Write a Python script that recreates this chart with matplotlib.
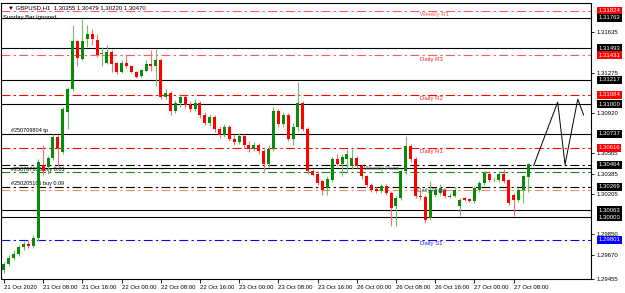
import matplotlib
matplotlib.use('Agg')
import matplotlib.pyplot as plt
import matplotlib.transforms as mtransforms
import numpy as np

plt.rcParams['font.family'] = ['Liberation Sans', 'DejaVu Sans']

# GBPUSD H1 candles, 21 Oct 2020 00:00 -> 27 Oct 2020 11:00 (Sunday bar ignored)
opens = [1.29537, 1.29590, 1.29642, 1.29677, 1.29739, 1.29765, 1.29748, 1.29818, 1.30466, 1.30448,
         1.30527, 1.30711, 1.30580, 1.30930, 1.31132, 1.31561, 1.31403, 1.31578, 1.31622, 1.31570,
         1.31447, 1.31368, 1.31464, 1.31368, 1.31281, 1.31368, 1.31333, 1.31281, 1.31245, 1.31289,
         1.31359, 1.31333, 1.31394, 1.31062, 1.31097, 1.30939, 1.31009, 1.31062, 1.30991, 1.30956,
         1.31009, 1.30904, 1.30834, 1.30886, 1.30781, 1.30729, 1.30799, 1.30694, 1.30667, 1.30720,
         1.30641, 1.30606, 1.30641, 1.30588, 1.30475, 1.30606, 1.30939, 1.30825, 1.30904, 1.30694,
         1.30799, 1.31009, 1.30781, 1.30413, 1.30387, 1.30317, 1.30256, 1.30326, 1.30518, 1.30475,
         1.30518, 1.30457, 1.30527, 1.30457, 1.30361, 1.30282, 1.30247, 1.30229, 1.30273, 1.30212,
         1.30098, 1.30168, 1.30405, 1.30632, 1.30518, 1.30186, 1.30177, 1.29993, 1.30194, 1.30212,
         1.30238, 1.30177, 1.30186, 1.30098, 1.30168, 1.30159, 1.30142, 1.30238, 1.30299, 1.30387,
         1.30326, 1.30326, 1.30387, 1.30326, 1.30194, 1.30150, 1.30238, 1.30355]
highs = [1.29607, 1.29669, 1.29712, 1.29756, 1.29791, 1.29800, 1.29844, 1.30518, 1.30641, 1.30545,
         1.30737, 1.30729, 1.30974, 1.31149, 1.31701, 1.31570, 1.31754, 1.31701, 1.31666, 1.31622,
         1.31508, 1.31526, 1.31482, 1.31377, 1.31394, 1.31438, 1.31342, 1.31289, 1.31307, 1.31394,
         1.31482, 1.31491, 1.31412, 1.31132, 1.31114, 1.31035, 1.31088, 1.31079, 1.31026, 1.31044,
         1.31026, 1.30930, 1.30913, 1.30904, 1.30807, 1.30825, 1.30816, 1.30729, 1.30746, 1.30737,
         1.30676, 1.30667, 1.30659, 1.30606, 1.30641, 1.30974, 1.30956, 1.30930, 1.30921, 1.30834,
         1.31193, 1.31026, 1.30799, 1.30431, 1.30405, 1.30343, 1.30361, 1.30536, 1.30562, 1.30562,
         1.30606, 1.30606, 1.30545, 1.30475, 1.30378, 1.30299, 1.30264, 1.30291, 1.30291, 1.30229,
         1.30186, 1.30431, 1.30720, 1.30650, 1.30536, 1.30238, 1.30194, 1.30317, 1.30256, 1.30291,
         1.30256, 1.30212, 1.30264, 1.30168, 1.30177, 1.30168, 1.30273, 1.30317, 1.30413, 1.30405,
         1.30352, 1.30405, 1.30431, 1.30343, 1.30212, 1.30256, 1.30378, 1.30479]
lows = [1.29511, 1.29572, 1.29625, 1.29660, 1.29712, 1.29730, 1.29730, 1.29791, 1.30378, 1.30387,
        1.30510, 1.30457, 1.30562, 1.30781, 1.31114, 1.31333, 1.31394, 1.31508, 1.31526, 1.31421,
        1.31333, 1.31359, 1.31281, 1.31263, 1.31272, 1.31324, 1.31272, 1.31228, 1.31237, 1.31281,
        1.31289, 1.31158, 1.31044, 1.31044, 1.30904, 1.30921, 1.30974, 1.30965, 1.30930, 1.30939,
        1.30878, 1.30816, 1.30807, 1.30755, 1.30702, 1.30711, 1.30676, 1.30641, 1.30650, 1.30615,
        1.30580, 1.30588, 1.30562, 1.30413, 1.30448, 1.30588, 1.30799, 1.30799, 1.30676, 1.30641,
        1.30764, 1.30764, 1.30387, 1.30361, 1.30282, 1.30194, 1.30194, 1.30308, 1.30457, 1.30361,
        1.30413, 1.30431, 1.30440, 1.30343, 1.30264, 1.30221, 1.30212, 1.30212, 1.30194, 1.29923,
        1.29923, 1.30150, 1.30387, 1.30492, 1.30168, 1.30150, 1.29949, 1.29975, 1.30177, 1.30194,
        1.30168, 1.30168, 1.30177, 1.30010, 1.30142, 1.30133, 1.30124, 1.30221, 1.30282, 1.30308,
        1.30308, 1.30308, 1.30299, 1.30107, 1.30010, 1.30133, 1.30124, 1.30220]
closes = [1.29590, 1.29642, 1.29677, 1.29739, 1.29765, 1.29748, 1.29818, 1.30492, 1.30405, 1.30527,
          1.30711, 1.30615, 1.30956, 1.31132, 1.31561, 1.31412, 1.31561, 1.31622, 1.31578, 1.31438,
          1.31456, 1.31464, 1.31359, 1.31281, 1.31368, 1.31333, 1.31281, 1.31237, 1.31298, 1.31359,
          1.31333, 1.31394, 1.31062, 1.31097, 1.30939, 1.31009, 1.31062, 1.30991, 1.30956, 1.31009,
          1.30904, 1.30834, 1.30886, 1.30781, 1.30729, 1.30799, 1.30694, 1.30667, 1.30720, 1.30641,
          1.30606, 1.30641, 1.30588, 1.30475, 1.30606, 1.30939, 1.30825, 1.30904, 1.30694, 1.30799,
          1.31009, 1.30781, 1.30413, 1.30378, 1.30299, 1.30238, 1.30343, 1.30518, 1.30475, 1.30536,
          1.30562, 1.30527, 1.30457, 1.30361, 1.30282, 1.30238, 1.30229, 1.30273, 1.30212, 1.30080,
          1.30168, 1.30405, 1.30632, 1.30518, 1.30186, 1.30177, 1.29975, 1.30238, 1.30238, 1.30256,
          1.30186, 1.30186, 1.30238, 1.30150, 1.30150, 1.30142, 1.30256, 1.30299, 1.30396, 1.30326,
          1.30334, 1.30387, 1.30317, 1.30124, 1.30150, 1.30238, 1.30361, 1.30470]

time_labels = ["21 Oct 2020", "21 Oct 08:00", "21 Oct 16:00", "22 Oct 00:00", "22 Oct 08:00",
               "22 Oct 16:00", "23 Oct 00:00", "23 Oct 08:00", "23 Oct 16:00", "26 Oct 00:00",
               "26 Oct 08:00", "26 Oct 16:00", "27 Oct 00:00", "27 Oct 08:00"]
price_ticks = [1.31635, 1.31275, 1.30920, 1.30565, 1.30385, 1.30205, 1.29850, 1.29670, 1.29455]

# horizontal levels: price, line colour, style, label box colour
level_prices = [1.31824, 1.31763, 1.31493, 1.31431, 1.31217, 1.31084, 1.31000, 1.30737,
                1.30616, 1.30464, 1.30269, 1.30063, 1.30000, 1.29801]
level_colors = ['#ff5a5a', 'black', 'black', '#ff5a5a', 'black', '#ff0000', 'black', 'black',
                '#ff0000', 'black', 'black', 'black', 'black', '#0000ff']
level_styles = ['dashdot', 'solid', 'solid', 'dashdot', 'solid', 'dashdot', 'solid', 'solid',
                'dashdot', 'dashdot', 'dashdot', 'solid', 'solid', 'dashdot']
label_boxes = ['#ff0000', 'black', 'black', '#ff0000', 'black', '#ff0000', 'black', 'black',
               '#ff0000', 'black', 'black', 'black', 'black', '#0000ff']

# extra order lines
order_prices = [1.30440, 1.30400, 1.30245]
order_colors = ['black', '#109010', '#f08a60']
order_styles = ['solid', 'dashdot', 'dashdot']

pivot_names = ["Weekly R1", "Daily R3", "Daily R2", "Daily R1", "Weekly Pivot", "Daily Pivot", "Daily S1"]
pivot_prices = [1.31824, 1.31431, 1.31084, 1.30616, 1.30464, 1.30269, 1.29801]
pivot_x = [85, 85, 85, 85, 73.5, 84.3, 85]
pivot_colors = ['#ff5a5a', '#ff2020', '#ff2020', '#ff2020', '#555555', '#555555', '#2020ff']

# hand drawn scenario path
draw_x = [108.1, 113.0, 114.5, 117.1, 118.3]
draw_y = [1.30457, 1.31018, 1.30466, 1.31044, 1.30904]

fig = plt.figure(figsize=(6.25, 2.93), dpi=100)
ax = fig.add_axes([1 / 625, 1 - 279 / 293, 590 / 625, 276 / 293])

o = np.array(opens)
h = np.array(highs)
l = np.array(lows)
c = np.array(closes)
idx = np.arange(len(o))
up = c >= o

body_cols = np.where(up, '#0a8a0a', '#ff0000')
wick_cols = np.where(up, '#6cc06c', '#ff7070')

dd = (0, (8, 3, 2, 3))
for p, col, st in zip(level_prices, level_colors, level_styles):
    ax.axhline(p, color=col, lw=0.8, ls='-' if st == 'solid' else dd, zorder=1)
for p, col, st in zip(order_prices, order_colors, order_styles):
    ax.axhline(p, color=col, lw=0.8, ls='-' if st == 'solid' else dd, zorder=1)

ax.vlines(idx, l, h, colors=wick_cols, lw=0.8, zorder=2)
ax.bar(idx, np.maximum(np.abs(c - o), 0.00003), bottom=np.minimum(o, c), width=0.62,
       color=body_cols, lw=0, zorder=3)

ax.plot(draw_x, draw_y, color='black', lw=0.7, zorder=4)

ax.set_xlim(-0.6, 119.8)
ax.set_ylim(1.29455, 1.31894)

# axes look
for s in ax.spines.values():
    s.set_color('black')
    s.set_linewidth(0.8)
ax.yaxis.tick_right()
ax.set_yticks(price_ticks)
ax.set_yticklabels([f'{p:.5f}' for p in price_ticks])
ax.tick_params(axis='y', length=2, width=0.6, labelsize=4.3, pad=2)
ax.set_xticks(np.arange(0, 8 * len(time_labels), 8))
ax.set_xticklabels(time_labels)
ax.tick_params(axis='x', length=3, width=0.6, labelsize=4.3, pad=1.5)
for t in ax.get_xticklabels():
    t.set_ha('left')

blend = mtransforms.blended_transform_factory(ax.transAxes, ax.transData)
for p, bc in zip(level_prices, label_boxes):
    ax.text(1.0125, p, f'{p:.5f}', transform=blend, color='white', fontsize=4.3,
            va='center', ha='left', clip_on=False, zorder=6,
            bbox=dict(boxstyle='square,pad=0.25', fc=bc, ec='none'))

for name, p, xx, col in zip(pivot_names, pivot_prices, pivot_x, pivot_colors):
    ax.text(xx, p - 0.00012, name, color=col, fontsize=4.3, va='top', ha='left', zorder=5)

ax.text(0.012, 0.992, "\u25bc GBPUSD,H1  1.30355 1.30479 1.30220 1.30470", transform=ax.transAxes,
        fontsize=4.3, va='top', ha='left')
ax.text(0.004, 0.958, "Sunday Bar Ignored", transform=ax.transAxes, fontsize=4.3, va='top', ha='left')
ax.text(1.5, 1.30737 + 0.00010, "#250709804 tp", fontsize=4.0, va='bottom', ha='left', zorder=1.5)
ax.text(1.5, 1.30400 + 0.00002, "#250707035 buy 0.01", fontsize=4.0, va='bottom', ha='left', zorder=1.5)
ax.text(1.5, 1.30269 + 0.00006, "#250205165 buy 0.09", fontsize=4.0, va='bottom', ha='left', zorder=1.5)

fig.savefig('out.png', dpi=100)
